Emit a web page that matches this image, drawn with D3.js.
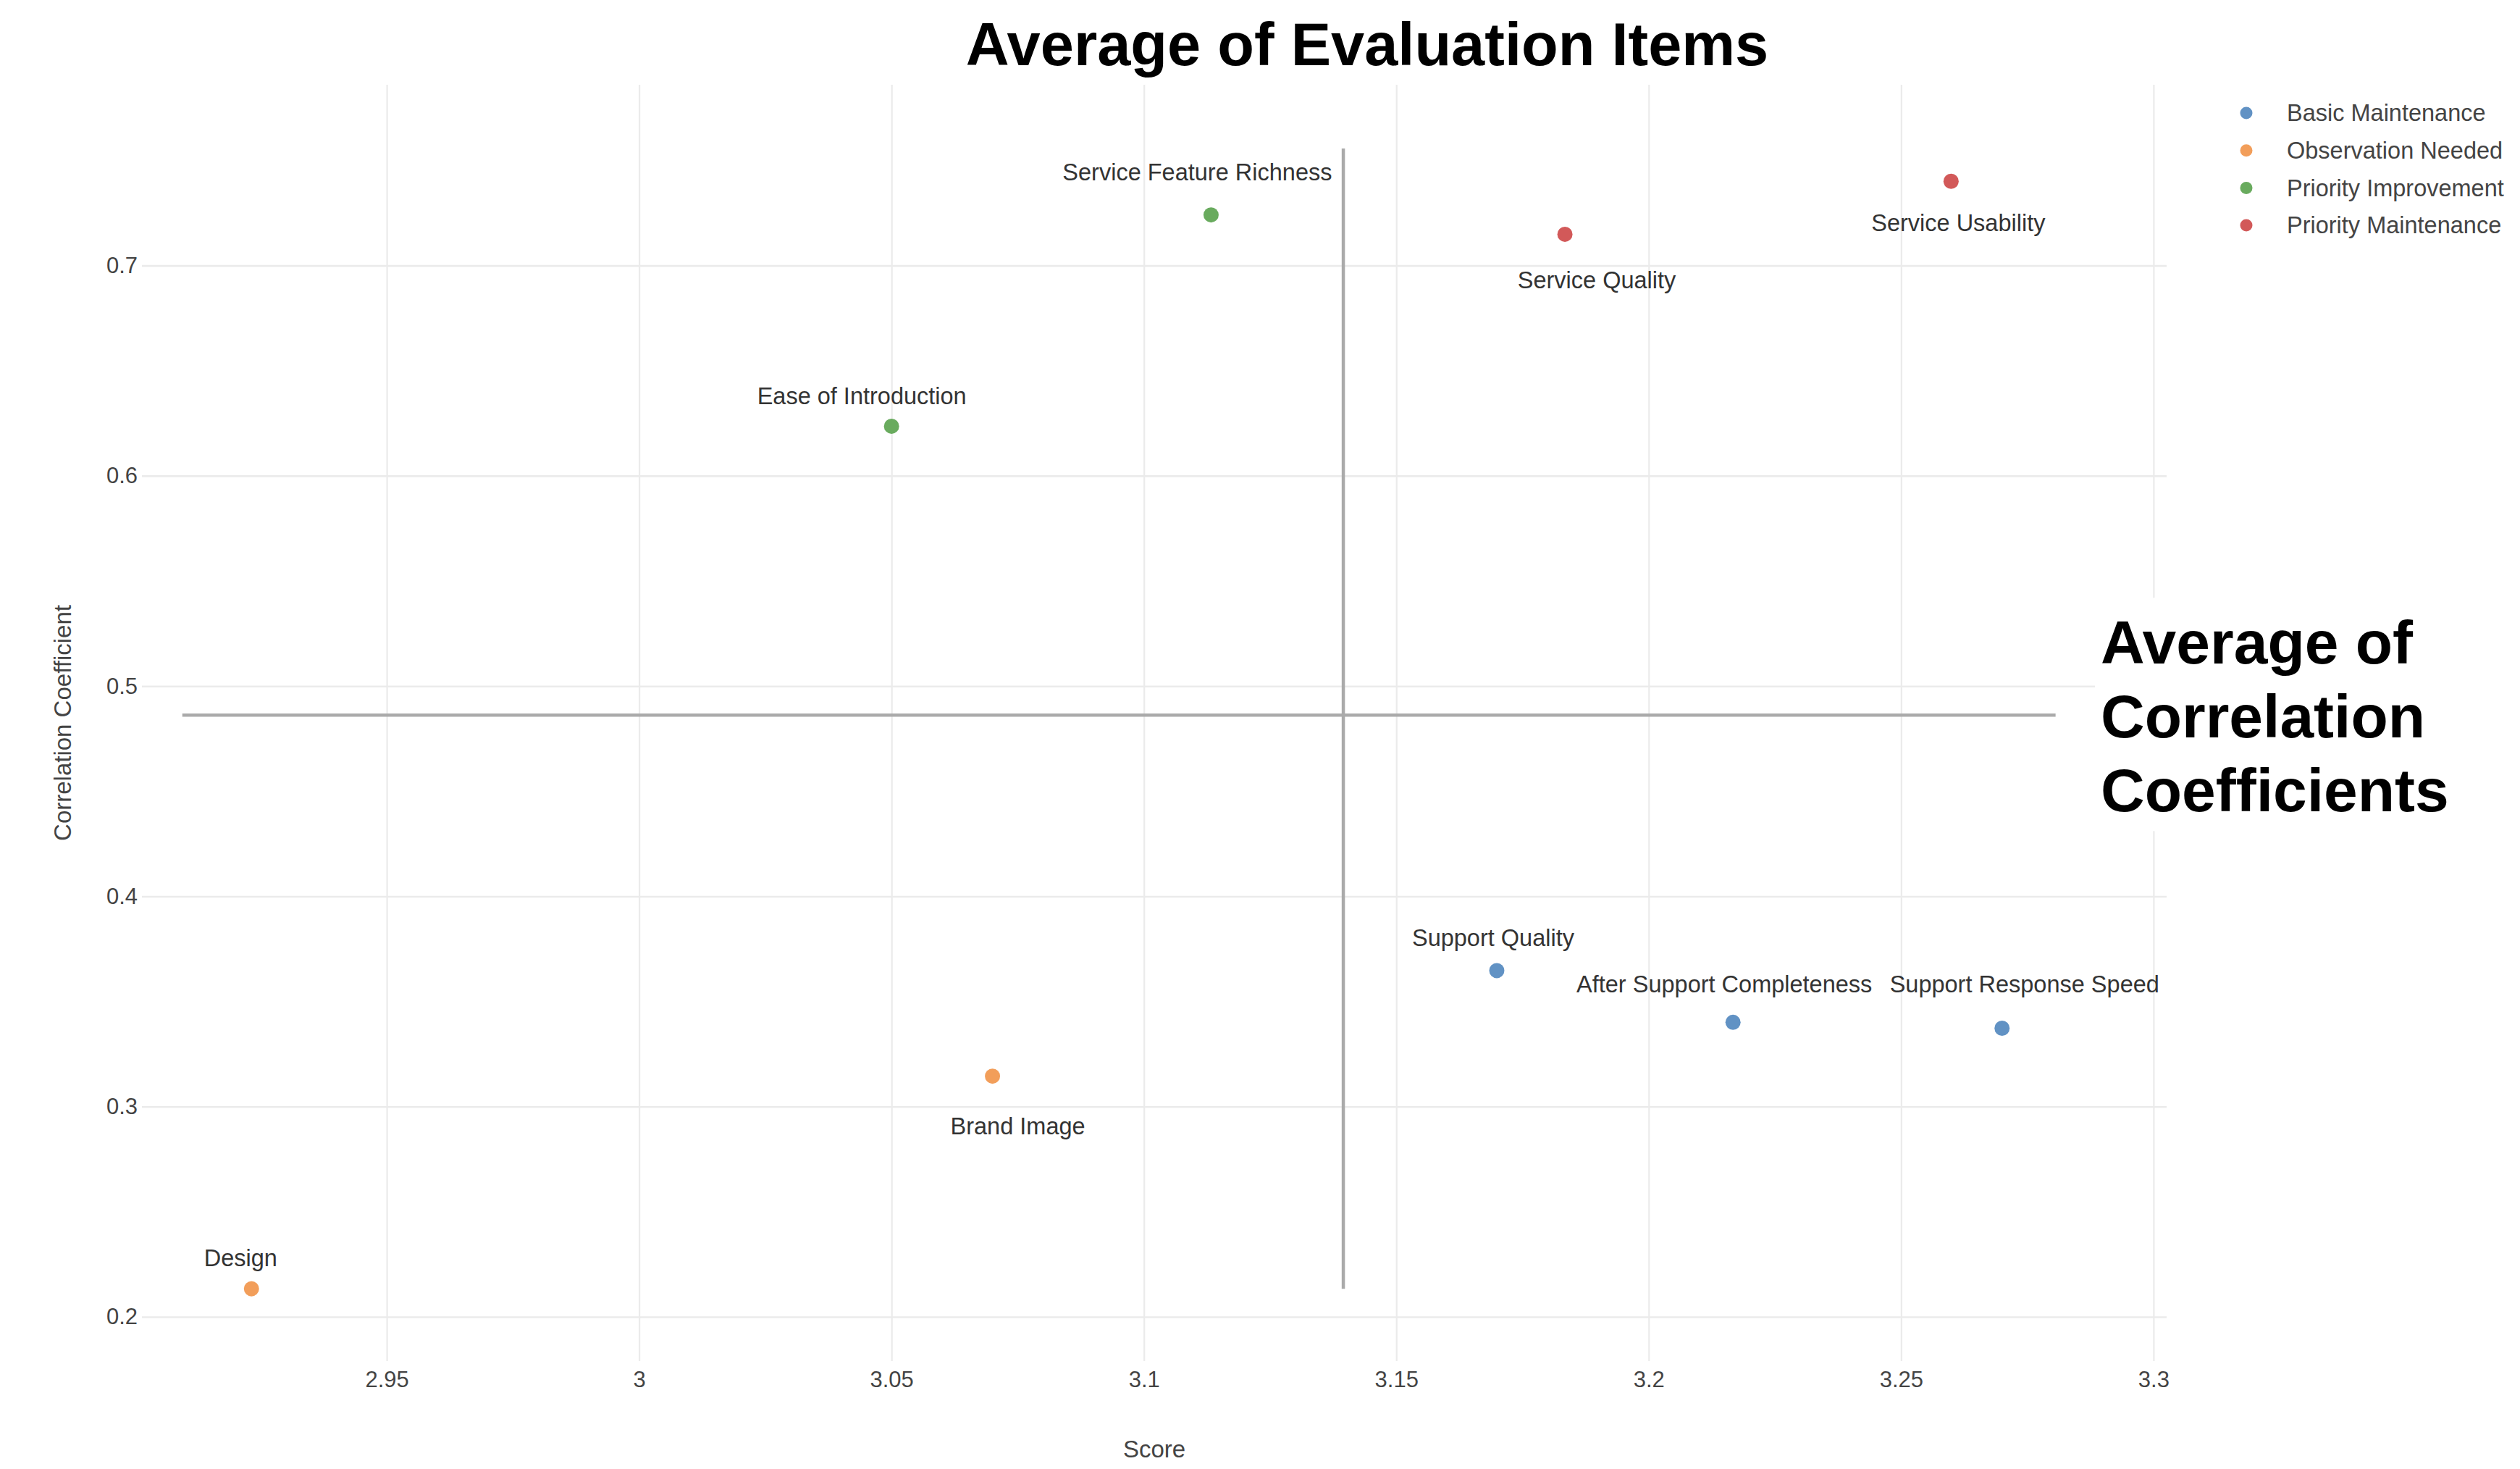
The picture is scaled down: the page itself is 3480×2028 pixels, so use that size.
<!DOCTYPE html>
<html>
<head>
<meta charset="utf-8">
<script src="https://cdn.jsdelivr.net/npm/d3@7/dist/d3.min.js"></script>
<style>
  html, body { margin: 0; padding: 0; background: #ffffff; }
  svg { display: block; }
  text { font-family: "Liberation Sans", Arial, Helvetica, sans-serif; }
</style>
</head>
<body>
<svg id="chart" width="3480" height="2028"></svg>
<script>
// ---------------- DATA ----------------
const items      = ["Service Feature Richness", "Service Quality", "Service Usability", "Ease of Introduction",
                    "Support Quality", "After Support Completeness", "Support Response Speed", "Brand Image", "Design"];
const scores     = [3.1133, 3.1834, 3.2599, 3.0500, 3.1699, 3.2167, 3.2700, 3.0700, 2.9232];
const correlations = [0.7241, 0.7149, 0.7401, 0.6236, 0.3647, 0.3401, 0.3373, 0.3145, 0.2134];
const groups     = ["Priority Improvement", "Priority Maintenance", "Priority Maintenance", "Priority Improvement",
                    "Basic Maintenance", "Basic Maintenance", "Basic Maintenance", "Observation Needed", "Observation Needed"];
const categories = ["Basic Maintenance", "Observation Needed", "Priority Improvement", "Priority Maintenance"];
const xTickValues = [2.95, 3, 3.05, 3.1, 3.15, 3.2, 3.25, 3.3];
const xTickLabels = ["2.95", "3", "3.05", "3.1", "3.15", "3.2", "3.25", "3.3"];
const yTickValues = [0.2, 0.3, 0.4, 0.5, 0.6, 0.7];
const yTickLabels = ["0.2", "0.3", "0.4", "0.5", "0.6", "0.7"];
const avgScore = 3.1395;
const avgCorrelation = 0.4862;
const vLineExtent = [0.2134, 0.7557];
const hLineExtent = [2.9095, 3.2806];
const xDomain = [2.9015, 3.3026];
const yDomain = [0.1790, 0.7860];
const titleText = "Average of Evaluation Items";
const annotationLines = ["Average of", "Correlation", "Coefficients"];
const xAxisTitle = "Score";
const yAxisTitle = "Correlation Coefficient";

// ---------------- LAYOUT / STYLE ----------------
const palette = ["#6192c4", "#f29e5a", "#69ab5e", "#d25959"];
// label placement relative to point (px): dx to label centre, dy to baseline
const labelPlacement = [[-19, -48], [44, 75], [10, 69], [-41, -30], [-5, -34], [-12, -41], [31, -49], [35, 80], [-15, -31]];
const plot = { left: 196, right: 2992, top: 117, bottom: 1879 };

const svg = d3.select("#chart");
const x = d3.scaleLinear().domain(xDomain).range([plot.left, plot.right]);
const y = d3.scaleLinear().domain(yDomain).range([plot.bottom, plot.top]);
const color = d3.scaleOrdinal().domain(categories).range(palette);

// grid + ticks (x)
const xAxis = svg.append("g")
  .attr("transform", `translate(0,${plot.bottom})`)
  .call(d3.axisBottom(x).tickValues(xTickValues)
    .tickFormat((d, i) => xTickLabels[i])
    .tickSize(-(plot.bottom - plot.top)).tickPadding(14));
xAxis.select(".domain").remove();
xAxis.selectAll(".tick line").attr("stroke", "#ebebeb").attr("stroke-width", 2.2);
xAxis.selectAll(".tick text").attr("font-size", 31).attr("fill", "#444")
  .attr("font-family", "'Liberation Sans', Arial, sans-serif");

// grid + ticks (y)
const yAxis = svg.append("g")
  .attr("transform", `translate(${plot.left},0)`)
  .call(d3.axisLeft(y).tickValues(yTickValues)
    .tickFormat((d, i) => yTickLabels[i])
    .tickSize(-(plot.right - plot.left)).tickPadding(6));
yAxis.select(".domain").remove();
yAxis.selectAll(".tick line").attr("stroke", "#ebebeb").attr("stroke-width", 2.6);
yAxis.selectAll(".tick text").attr("font-size", 31).attr("fill", "#444")
  .attr("font-family", "'Liberation Sans', Arial, sans-serif");

// axis titles
svg.append("text").attr("x", (plot.left + plot.right) / 2).attr("y", 2012)
  .attr("text-anchor", "middle").attr("font-size", 33).attr("fill", "#444").text(xAxisTitle);
svg.append("text").attr("transform", `translate(98,998) rotate(-90)`)
  .attr("text-anchor", "middle").attr("font-size", 33).attr("fill", "#444").text(yAxisTitle);

// average lines
svg.append("line")
  .attr("x1", x(avgScore)).attr("x2", x(avgScore))
  .attr("y1", y(vLineExtent[1])).attr("y2", y(vLineExtent[0]))
  .attr("stroke", "#aaaaaa").attr("stroke-width", 4.5);
svg.append("line")
  .attr("x1", x(hLineExtent[0])).attr("x2", x(hLineExtent[1]))
  .attr("y1", y(avgCorrelation)).attr("y2", y(avgCorrelation))
  .attr("stroke", "#aaaaaa").attr("stroke-width", 4.5);

// points
const pts = items.map((name, i) => ({ name, score: scores[i], corr: correlations[i], group: groups[i], lp: labelPlacement[i] }));
svg.append("g").selectAll("circle").data(pts).join("circle")
  .attr("cx", d => x(d.score)).attr("cy", d => y(d.corr)).attr("r", 10.5)
  .attr("fill", d => color(d.group));

svg.append("g").selectAll("text").data(pts).join("text")
  .attr("x", d => x(d.score) + d.lp[0]).attr("y", d => y(d.corr) + d.lp[1])
  .attr("text-anchor", "middle").attr("font-size", 32.5).attr("fill", "#333")
  .text(d => d.name);

// title
svg.append("text").attr("x", 1888).attr("y", 90).attr("text-anchor", "middle")
  .attr("font-size", 83).attr("font-weight", "bold").attr("fill", "#000").text(titleText);

// annotation with white background
const annY = y(avgCorrelation);
const ann = svg.append("g");
const annRect = ann.append("rect").attr("fill", "#fff");
const annText = ann.append("text").attr("font-size", 84).attr("font-weight", "bold").attr("fill", "#000");
const lineOffsets = [-71, 31, 133];
annotationLines.forEach((t, i) => {
  annText.append("tspan").attr("x", 2901).attr("y", annY + lineOffsets[i]).text(t);
});
const bb = annText.node().getBBox();
annRect.attr("x", 2893).attr("y", annY - 162).attr("width", bb.width + 16).attr("height", 322);

// legend
const legend = svg.append("g");
categories.forEach((c, i) => {
  const cy = 156 + i * 51.7;
  legend.append("circle").attr("cx", 3102).attr("cy", cy).attr("r", 8.5).attr("fill", color(c));
  legend.append("text").attr("x", 3158).attr("y", cy).attr("dy", "0.35em")
    .attr("font-size", 32.5).attr("fill", "#444").text(c);
});
</script>
</body>
</html>
